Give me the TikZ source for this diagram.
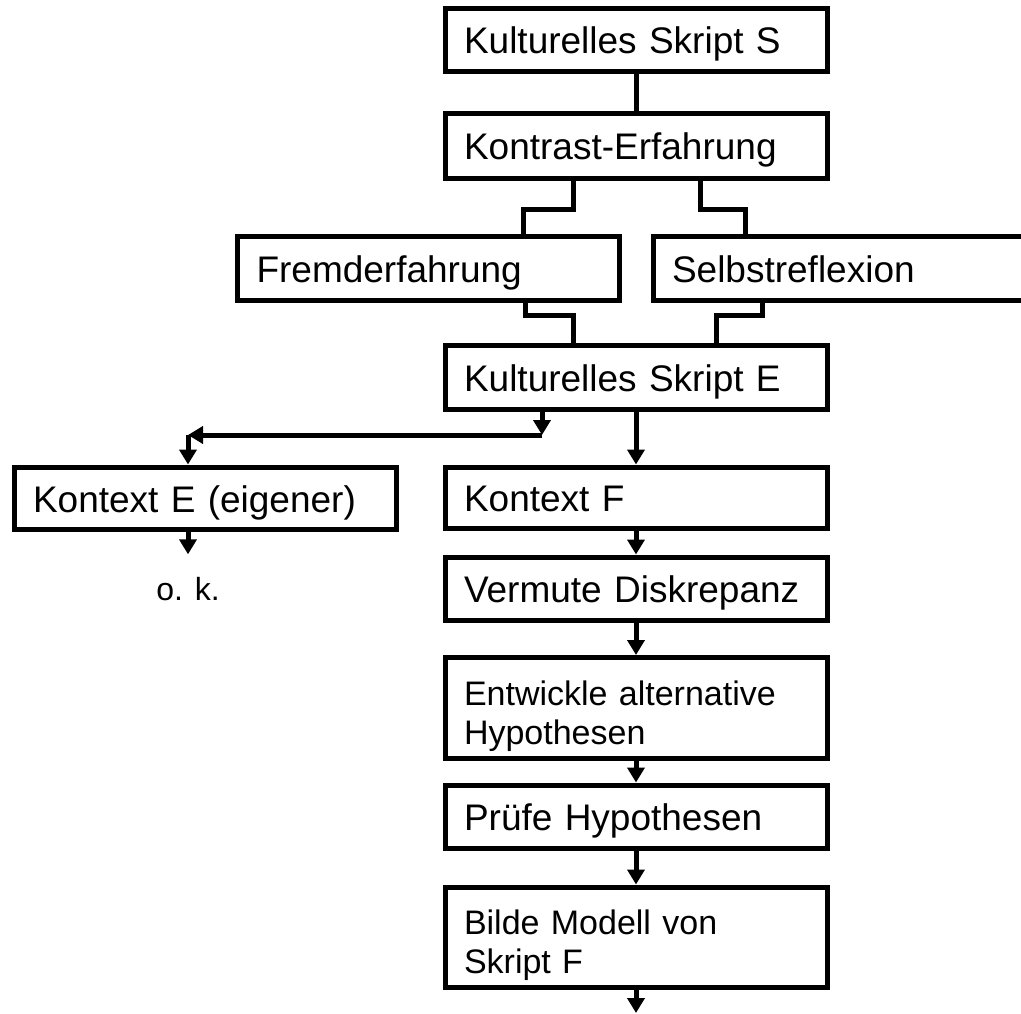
\documentclass[tikz,border=0pt]{standalone}
\usepackage{fontspec}
\setmainfont{Liberation Sans}
\usetikzlibrary{arrows.meta}

\tikzset{
  stufe/.style={draw,rectangle,inner xsep=19pt,inner ysep=0pt,
    text width=344pt,align=left,minimum height=63pt,
    text height=31pt,text depth=3pt,
    font=\fontsize{37}{43}\selectfont},
  doppel/.style={stufe,minimum height=101pt,
    text height=25pt,text depth=31pt,
    font=\fontsize{34}{39}\selectfont},
}

\begin{document}
\begin{tikzpicture}[x=1pt,y=-1pt,line width=5pt,
    >={Triangle[length=15pt,width=17pt]}]
  \useasboundingbox (0,0) rectangle (1021,1013);

  \node[stufe] (skriptS) at (636,39.5) {Kulturelles Skript S};
  \node[stufe,minimum height=65pt] (kontrast) at (636,145.5) {Kontrast-Erfahrung};
  \node[stufe,minimum height=64pt] (fremd) at (428.5,268) {Fremderfahrung};
  \node[stufe,minimum height=64pt] (selbst) at (844,268) {Selbstreflexion};
  \node[stufe,minimum height=64pt] (skriptE) at (636,377) {Kulturelles Skript E};
  \node[stufe,minimum height=62pt] (kontextE) at (205,498) {Kontext E (eigener)};
  \node[stufe,minimum height=61pt] (kontextF) at (636,497.5) {Kontext F};
  \node[stufe] (vermute) at (636,588.5) {Vermute Diskrepanz};
  \node[doppel] (entwickle) at (636,708) {Entwickle alternative\\Hypothesen};
  \node[stufe] (pruefe) at (636,816.5) {Prüfe Hypothesen};
  \node[doppel,minimum height=100pt] (modell) at (636,937) {Bilde Modell von\\Skript F};
  \node[font=\fontsize{32}{38}\selectfont,inner ysep=20pt,anchor=base]
    (ok) at (188,600) {o. k.};

  \coordinate (split) at (542,435);
  \coordinate (bend) at (188,435);
  \coordinate (ende) at (636,1013);

  % Verzweigung nach dem Kontrast
  \draw (skriptS) -- (kontrast);
  \draw ([xshift=-63pt]kontrast.south) -- ++(0,29)
    -| ([xshift=288pt]fremd.north west);
  \draw ([xshift=64pt]kontrast.south) -- ++(0,29)
    -| ([xshift=95pt]selbst.north west);
  \draw ([xshift=290pt]fremd.south west) -- ++(0,13)
    -| ([xshift=-63pt]skriptE.north);
  \draw ([xshift=112pt]selbst.south west) -- ++(0,13)
    -| ([xshift=80pt]skriptE.north);

  % eigener Kontext
  \draw[->] ([xshift=-94pt]skriptE.south) -- (split);
  \draw[->] (split) -- (bend);
  \draw[->] (bend) -- (bend |- kontextE.north);
  \draw[->] (bend |- kontextE.south) -- (ok.north);

  % fremder Kontext
  \draw[->] (skriptE) -- (kontextF);
  \draw[->] (kontextF) -- (vermute);
  \draw[->] (vermute) -- (entwickle);
  \draw[->] (entwickle) -- (pruefe);
  \draw[->] (pruefe) -- (modell);
  \draw[->] (modell) -- (ende);
\end{tikzpicture}
\end{document}
